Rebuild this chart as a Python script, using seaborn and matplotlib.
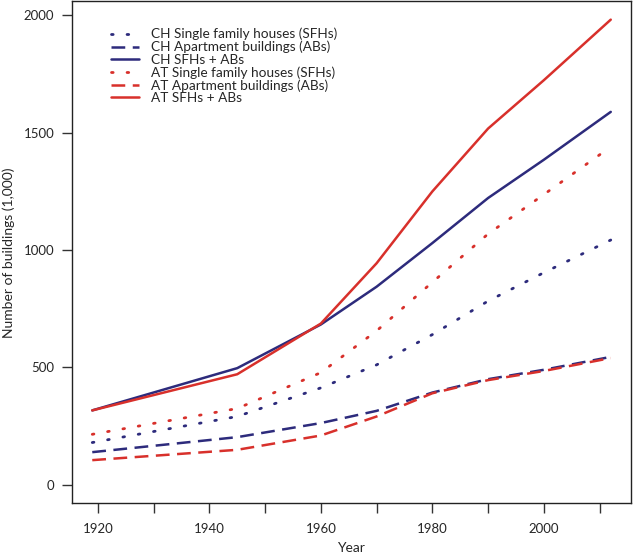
import numpy as np
import pandas as pd
import matplotlib
matplotlib.use("Agg")
import matplotlib.pyplot as plt
import seaborn as sns
from matplotlib.ticker import MultipleLocator

# Data (1,000 buildings)
years = [1919, 1945, 1960, 1970, 1980, 1990, 2000, 2012]
ch_sfh = [180, 291, 413, 511, 640, 783, 904, 1043]
ch_ab = [139, 203, 263, 315, 393, 450, 490, 545]
ch_total = [317, 497, 683, 844, 1030, 1222, 1385, 1589]
at_sfh = [215, 325, 478, 656, 863, 1069, 1237, 1440]
at_ab = [105, 149, 210, 291, 390, 446, 485, 540]
at_total = [317, 471, 687, 944, 1250, 1518, 1724, 1982]

labels = [
    "CH Single family houses (SFHs)",
    "CH Apartment buildings (ABs)",
    "CH SFHs + ABs",
    "AT Single family houses (SFHs)",
    "AT Apartment buildings (ABs)",
    "AT SFHs + ABs",
]
series = [ch_sfh, ch_ab, ch_total, at_sfh, at_ab, at_total]

navy = "#2d2b7c"
red = "#d8302b"
colors = [navy, navy, navy, red, red, red]
dashes = [(0.6, 5), (5.5, 3), "", (0.6, 5), (5.5, 3), ""]

df = pd.concat(
    [pd.DataFrame({"Year": years, "value": vals, "series": lab})
     for lab, vals in zip(labels, series)],
    ignore_index=True,
)

sns.set_style("ticks")
plt.rcParams["font.family"] = ["Lato", "DejaVu Sans"]

fig = plt.figure(figsize=(6.34, 5.59), dpi=100)
ax = fig.add_axes([0.113, 0.0996, 0.882, 0.898])

sns.lineplot(
    data=df, x="Year", y="value", hue="series", style="series",
    hue_order=labels, style_order=labels,
    palette=dict(zip(labels, colors)), dashes=dict(zip(labels, dashes)),
    linewidth=1.8, ax=ax, legend=False,
)
for line, d in zip(ax.lines, dashes):
    if d == (0.6, 5):
        line.set_dash_capstyle("round")
        line.set_linewidth(2.0)

ax.set_xlim(1915.3, 2015.6)
ax.set_ylim(-79, 2060)
ax.xaxis.set_major_locator(MultipleLocator(20))
ax.xaxis.set_minor_locator(MultipleLocator(10))
ax.set_yticks([0, 500, 1000, 1500, 2000])
ax.tick_params(axis="both", which="both", direction="out", length=7.5,
               width=1, color="#333333", labelsize=9.5, pad=5)
ax.tick_params(axis="x", which="major", pad=7)

for s in ax.spines.values():
    s.set_visible(True)
    s.set_linewidth(1.0)
    s.set_color("#222222")

ax.set_xlabel("Year", fontsize=10, labelpad=5)
ax.set_ylabel("Number of buildings (1,000)", fontsize=10, labelpad=6)

handles = ax.lines[:6]
ax.legend(handles, labels, loc="upper left", bbox_to_anchor=(0.06, 0.958),
          frameon=False, fontsize=9.8, handlelength=2.1, handletextpad=0.9,
          labelspacing=0.03, borderaxespad=0)

fig.savefig("out.png", dpi=100)
